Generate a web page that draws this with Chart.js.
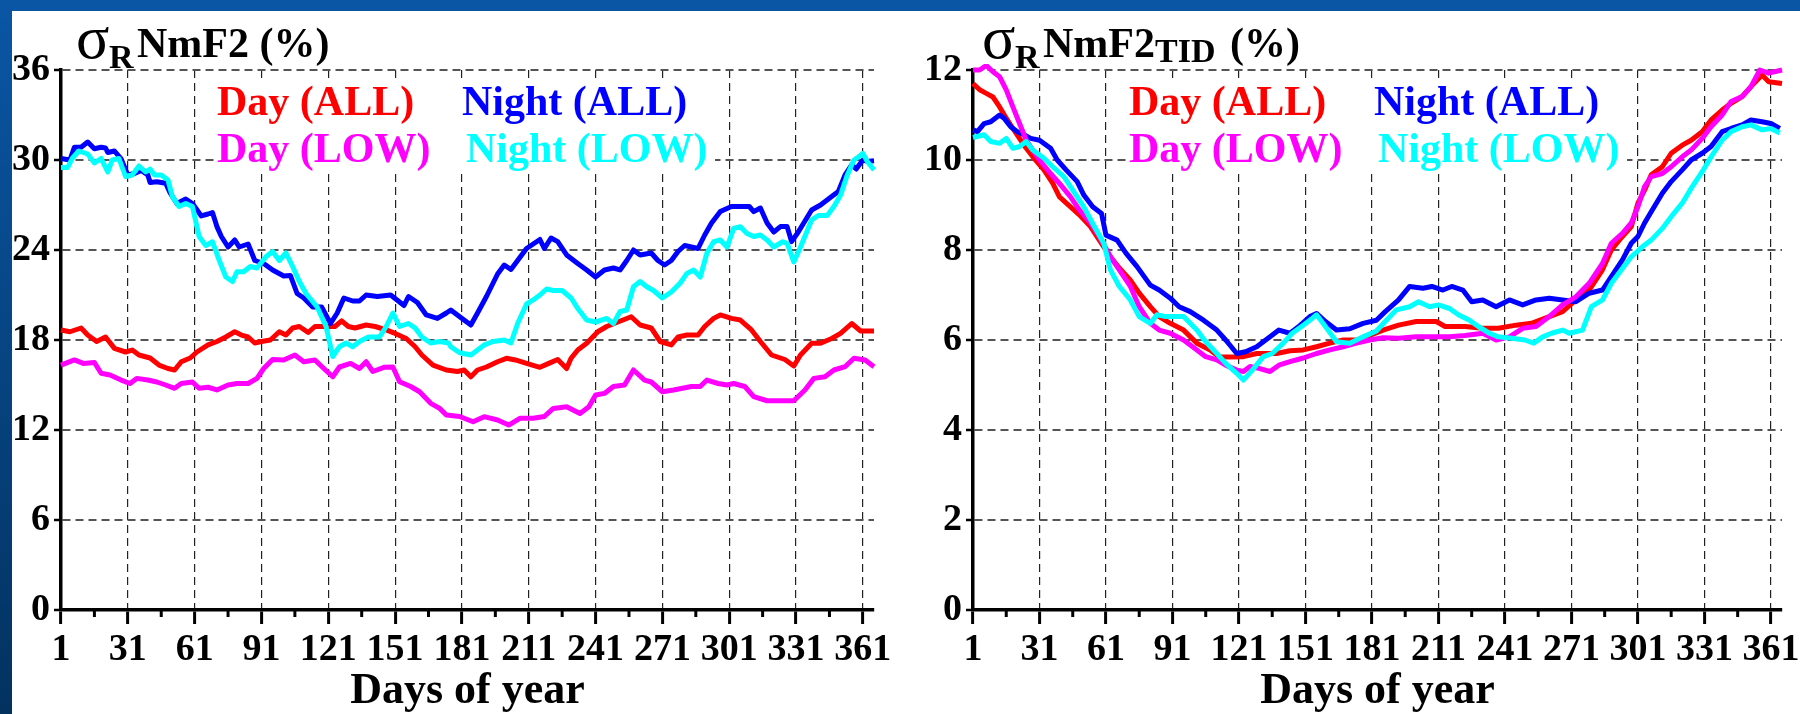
<!DOCTYPE html>
<html>
<head>
<meta charset="utf-8">
<script src="https://cdn.jsdelivr.net/npm/chart.js@4.4.1/dist/chart.umd.min.js"></script>
<style>
  html, body { margin: 0; padding: 0; }
  body { width: 1800px; height: 714px; overflow: hidden; background: #fff; position: relative; }
  .band-top { position: absolute; left: 0; top: 0; width: 1800px; height: 11px; background: #0a56a5; }
  .band-left { position: absolute; left: 0; top: 0; width: 12px; height: 714px; background: linear-gradient(#0a56a5, #03325f); }
  #leftChart { position: absolute; left: 12px; top: 11px; }
  #rightChart { position: absolute; left: 900px; top: 11px; }
</style>
</head>
<body>
<div class="band-top"></div>
<div class="band-left"></div>
<canvas id="leftChart" width="888" height="703"></canvas>
<canvas id="rightChart" width="900" height="703"></canvas>
<script>
// axis ticks
const xTickDays = [1, 31, 61, 91, 121, 151, 181, 211, 241, 271, 301, 331, 361];
const xMinorDays = [16, 46, 76, 106, 136, 166, 196, 226, 256, 286, 316, 346];
const leftYTicks = [0, 6, 12, 18, 24, 30, 36];
const rightYTicks = [0, 2, 4, 6, 8, 10, 12];

const seriesLabels = ['Day (ALL)', 'Night (ALL)', 'Day (LOW)', 'Night (LOW)'];
const seriesColors = ['#ff0000', '#0000ff', '#ff00ff', '#00ffff'];

// left panel: sigma_R NmF2 (%)
const leftDayAllDays = [1, 5, 10, 13, 17, 21, 25, 30, 33, 36, 41, 45, 49, 52, 55, 59, 62, 67, 71, 75, 79, 82, 85, 88, 91, 95, 99, 102, 105, 108, 112, 115, 121, 124, 127, 130, 133, 138, 142, 147, 151, 156, 160, 163, 168, 174, 179, 182, 185, 188, 192, 197, 201, 205, 210, 216, 220, 224, 228, 230, 233, 237, 242, 246, 251, 257, 261, 266, 270, 275, 278, 282, 287, 290, 294, 297, 302, 306, 311, 315, 320, 326, 330, 333, 338, 342, 347, 351, 356, 360, 366];
const leftDayAllVals = [18.67, 18.55, 18.8, 18.33, 17.9, 18.2, 17.44, 17.2, 17.33, 17.0, 16.8, 16.33, 16.1, 16.0, 16.55, 16.8, 17.2, 17.67, 17.9, 18.2, 18.55, 18.33, 18.2, 17.8, 17.9, 18.0, 18.55, 18.33, 18.8, 18.9, 18.5, 18.9, 18.9, 18.9, 19.27, 18.9, 18.8, 19.0, 18.9, 18.67, 18.44, 18.1, 17.55, 17.0, 16.33, 16.0, 15.9, 16.0, 15.55, 16.0, 16.2, 16.55, 16.78, 16.67, 16.44, 16.18, 16.44, 16.7, 16.1, 16.78, 17.33, 17.78, 18.55, 18.9, 19.2, 19.55, 19.0, 18.8, 17.9, 17.67, 18.2, 18.33, 18.33, 18.9, 19.44, 19.67, 19.44, 19.33, 18.67, 17.9, 17.0, 16.7, 16.27, 17.0, 17.78, 17.78, 18.1, 18.44, 19.1, 18.6, 18.6];

const leftNightAllDays = [1, 5, 7, 10, 13, 16, 19, 21, 22, 25, 28, 31, 34, 37, 40, 41, 44, 48, 50, 53, 57, 60, 64, 67, 69, 71, 73, 76, 79, 81, 85, 88, 92, 96, 101, 104, 107, 110, 114, 118, 122, 125, 128, 132, 135, 138, 143, 149, 155, 157, 161, 165, 170, 174, 176, 180, 185, 188, 192, 197, 200, 203, 206, 210, 213, 216, 218, 221, 224, 228, 233, 237, 241, 245, 249, 252, 255, 258, 261, 266, 269, 272, 275, 278, 281, 287, 290, 293, 297, 302, 306, 310, 312, 315, 318, 321, 324, 327, 329, 332, 338, 342, 347, 350, 353, 356, 358, 361, 363, 366];
const leftNightAllVals = [30.1, 30.0, 30.85, 30.85, 31.2, 30.75, 30.85, 30.8, 30.5, 30.6, 30.07, 29.0, 29.1, 29.3, 29.0, 28.5, 28.55, 28.45, 27.8, 27.1, 27.4, 27.1, 26.27, 26.4, 26.5, 25.56, 24.9, 24.2, 24.67, 24.2, 24.4, 23.3, 23.1, 22.67, 22.27, 22.3, 21.1, 20.8, 20.2, 20.2, 19.1, 19.8, 20.8, 20.6, 20.6, 21.0, 20.9, 21.0, 20.3, 20.9, 20.5, 19.67, 19.44, 19.8, 20.0, 19.55, 19.0, 19.8, 20.9, 22.4, 23.0, 22.7, 23.3, 24.1, 24.4, 24.7, 24.1, 24.8, 24.56, 23.67, 23.1, 22.67, 22.2, 22.67, 22.8, 22.67, 23.3, 24.0, 23.67, 23.8, 23.3, 23.0, 23.3, 23.9, 24.3, 24.1, 25.0, 25.78, 26.56, 26.9, 26.9, 26.9, 26.56, 26.8, 25.8, 25.2, 25.56, 25.56, 24.56, 25.2, 26.67, 27.0, 27.56, 27.9, 29.0, 29.67, 29.4, 30.0, 29.9, 29.95];

const leftDayLowDays = [1, 7, 11, 16, 19, 23, 28, 32, 35, 40, 44, 48, 52, 55, 60, 63, 67, 71, 76, 80, 85, 89, 92, 96, 101, 106, 110, 115, 119, 123, 126, 131, 135, 138, 141, 146, 150, 153, 158, 162, 167, 171, 174, 180, 186, 191, 197, 202, 207, 213, 218, 222, 228, 234, 238, 241, 245, 249, 254, 258, 263, 266, 271, 276, 284, 288, 291, 296, 300, 303, 308, 312, 318, 324, 330, 335, 339, 344, 348, 353, 357, 362, 366];
const leftDayLowVals = [16.33, 16.67, 16.44, 16.5, 15.78, 15.67, 15.33, 15.1, 15.44, 15.33, 15.2, 15.0, 14.78, 15.1, 15.2, 14.78, 14.85, 14.67, 15.0, 15.1, 15.1, 15.44, 16.1, 16.7, 16.67, 17.0, 16.55, 16.67, 16.1, 15.55, 16.2, 16.44, 16.1, 16.55, 15.9, 16.18, 16.2, 15.22, 14.9, 14.55, 13.78, 13.44, 13.0, 12.9, 12.55, 12.89, 12.67, 12.33, 12.78, 12.78, 12.9, 13.44, 13.55, 13.1, 13.55, 14.33, 14.44, 14.9, 15.0, 16.0, 15.33, 15.2, 14.55, 14.67, 14.9, 14.9, 15.33, 15.1, 15.0, 15.1, 14.9, 14.22, 13.95, 13.95, 13.95, 14.67, 15.44, 15.55, 16.0, 16.22, 16.78, 16.67, 16.22];

const leftNightLowDays = [1, 4, 6, 9, 13, 16, 19, 22, 24, 27, 30, 33, 36, 39, 41, 43, 46, 49, 51, 54, 57, 60, 63, 66, 69, 72, 75, 78, 80, 83, 86, 89, 93, 96, 99, 102, 105, 108, 111, 116, 120, 123, 126, 129, 132, 135, 139, 144, 147, 150, 153, 157, 160, 163, 167, 171, 175, 176, 180, 185, 188, 191, 195, 200, 203, 206, 210, 213, 216, 219, 222, 226, 230, 233, 237, 241, 246, 249, 252, 255, 258, 261, 264, 267, 271, 275, 279, 282, 285, 288, 291, 294, 297, 300, 303, 306, 309, 312, 315, 318, 321, 325, 327, 330, 333, 338, 341, 345, 348, 351, 354, 357, 359, 361, 363, 366];
const leftNightLowVals = [29.5, 29.5, 30.1, 30.6, 30.4, 29.8, 30.1, 29.2, 30.0, 30.1, 28.9, 29.0, 29.6, 29.2, 29.4, 29.0, 29.0, 28.67, 27.56, 26.9, 27.1, 26.9, 24.9, 24.3, 24.55, 23.33, 22.2, 21.9, 22.55, 22.55, 22.9, 22.8, 23.55, 23.9, 23.3, 23.8, 22.9, 21.9, 21.1, 20.2, 18.9, 16.9, 17.55, 17.8, 17.55, 17.9, 18.2, 18.2, 18.9, 19.8, 18.9, 19.1, 18.8, 18.2, 17.8, 17.9, 17.8, 17.55, 17.15, 17.0, 17.33, 17.67, 17.9, 18.0, 17.8, 19.1, 20.4, 20.67, 21.0, 21.4, 21.3, 21.3, 20.8, 20.1, 19.33, 19.2, 19.44, 19.1, 19.9, 20.0, 21.55, 21.9, 21.55, 21.3, 20.8, 21.2, 21.8, 22.44, 22.67, 22.2, 23.8, 24.55, 24.67, 24.2, 25.44, 25.55, 25.1, 24.9, 25.0, 24.67, 24.2, 24.55, 24.44, 23.2, 24.2, 26.0, 26.3, 26.3, 26.9, 27.67, 29.0, 30.0, 30.2, 30.44, 29.9, 29.33];

// right panel: sigma_R NmF2_TID (%)
const rightDayAllDays = [1, 4, 7, 10, 13, 16, 19, 24, 28, 33, 37, 40, 45, 49, 54, 58, 63, 67, 72, 76, 81, 85, 90, 96, 102, 108, 112, 117, 123, 129, 138, 144, 150, 156, 162, 168, 174, 180, 186, 193, 201, 210, 214, 223, 231, 238, 246, 253, 261, 267, 273, 279, 285, 289, 294, 298, 301, 304, 307, 312, 316, 321, 325, 330, 334, 339, 343, 348, 352, 357, 360, 366];
const rightDayAllVals = [11.7, 11.56, 11.48, 11.4, 11.18, 10.93, 10.7, 10.33, 10.07, 9.78, 9.48, 9.18, 8.96, 8.78, 8.52, 8.22, 7.85, 7.6, 7.33, 7.04, 6.74, 6.52, 6.37, 6.22, 5.93, 5.78, 5.63, 5.62, 5.63, 5.7, 5.7, 5.76, 5.78, 5.85, 5.93, 6.0, 6.0, 6.1, 6.22, 6.33, 6.41, 6.41, 6.3, 6.3, 6.26, 6.26, 6.33, 6.37, 6.52, 6.63, 6.89, 7.11, 7.56, 8.0, 8.3, 8.52, 9.04, 9.33, 9.67, 9.85, 10.15, 10.33, 10.44, 10.63, 10.89, 11.11, 11.26, 11.41, 11.63, 11.89, 11.74, 11.7];

const rightNightAllDays = [1, 3, 6, 9, 13, 15, 18, 21, 24, 27, 31, 36, 39, 43, 48, 51, 55, 59, 61, 66, 70, 75, 81, 85, 90, 94, 99, 105, 111, 115, 120, 124, 129, 135, 139, 144, 148, 153, 156, 160, 165, 171, 177, 183, 187, 193, 198, 204, 208, 213, 217, 222, 226, 231, 237, 243, 249, 255, 261, 267, 273, 279, 285, 289, 294, 298, 301, 304, 307, 312, 316, 321, 325, 330, 334, 339, 343, 348, 352, 357, 361, 365];
const rightNightAllVals = [10.67, 10.63, 10.81, 10.85, 11.0, 10.93, 10.74, 10.63, 10.56, 10.48, 10.44, 10.26, 10.0, 9.78, 9.52, 9.22, 8.96, 8.81, 8.33, 8.22, 7.93, 7.63, 7.22, 7.11, 6.93, 6.74, 6.63, 6.44, 6.22, 6.0, 5.7, 5.74, 5.85, 6.07, 6.22, 6.15, 6.3, 6.52, 6.59, 6.41, 6.22, 6.25, 6.37, 6.44, 6.63, 6.89, 7.19, 7.15, 7.19, 7.11, 7.19, 7.11, 6.85, 6.89, 6.74, 6.89, 6.78, 6.89, 6.93, 6.89, 6.85, 7.04, 7.11, 7.41, 7.78, 8.15, 8.3, 8.6, 8.85, 9.26, 9.52, 9.78, 10.0, 10.15, 10.3, 10.63, 10.7, 10.78, 10.89, 10.85, 10.81, 10.7];

const rightDayLowDays = [1, 4, 7, 10, 13, 16, 19, 22, 25, 28, 31, 36, 40, 45, 49, 54, 58, 63, 67, 72, 76, 81, 85, 90, 96, 102, 106, 111, 115, 120, 123, 126, 130, 135, 139, 144, 150, 156, 162, 168, 174, 180, 186, 193, 201, 210, 216, 223, 231, 237, 243, 249, 255, 261, 267, 273, 279, 285, 289, 294, 298, 301, 304, 307, 312, 316, 321, 325, 330, 334, 339, 343, 348, 352, 356, 360, 366];
const rightDayLowVals = [12.0, 12.0, 12.1, 11.96, 11.85, 11.56, 11.18, 10.81, 10.44, 10.22, 10.0, 9.7, 9.48, 9.18, 8.89, 8.6, 8.3, 7.85, 7.56, 7.19, 6.74, 6.37, 6.22, 6.15, 6.0, 5.78, 5.63, 5.56, 5.44, 5.33, 5.3, 5.41, 5.37, 5.3, 5.44, 5.52, 5.6, 5.7, 5.78, 5.85, 5.93, 6.0, 6.05, 6.04, 6.07, 6.07, 6.07, 6.1, 6.15, 6.0, 6.07, 6.26, 6.3, 6.52, 6.78, 6.96, 7.26, 7.7, 8.15, 8.37, 8.6, 8.96, 9.41, 9.63, 9.7, 9.85, 10.07, 10.22, 10.48, 10.74, 11.0, 11.3, 11.41, 11.63, 12.0, 11.93, 12.0];

const rightNightLowDays = [1, 6, 9, 13, 16, 19, 22, 25, 28, 33, 37, 42, 46, 51, 55, 60, 63, 67, 72, 76, 81, 84, 88, 96, 102, 106, 111, 115, 120, 123, 127, 132, 136, 141, 145, 150, 154, 156, 160, 165, 171, 177, 183, 187, 192, 198, 202, 207, 211, 216, 220, 225, 229, 234, 238, 244, 250, 254, 258, 262, 267, 270, 276, 280, 285, 289, 294, 298, 303, 307, 312, 316, 321, 325, 330, 334, 339, 343, 348, 352, 357, 361, 365];
const rightNightLowVals = [10.5, 10.56, 10.41, 10.37, 10.48, 10.26, 10.3, 10.41, 10.22, 10.04, 9.85, 9.63, 9.33, 8.96, 8.59, 8.15, 7.56, 7.19, 6.89, 6.52, 6.37, 6.56, 6.52, 6.52, 6.22, 5.96, 5.7, 5.48, 5.26, 5.11, 5.33, 5.63, 5.7, 5.93, 6.15, 6.33, 6.48, 6.56, 6.3, 5.96, 5.93, 6.07, 6.2, 6.41, 6.67, 6.74, 6.85, 6.74, 6.78, 6.7, 6.56, 6.44, 6.3, 6.15, 6.07, 6.04, 6.0, 5.93, 6.07, 6.15, 6.22, 6.15, 6.22, 6.74, 6.89, 7.26, 7.59, 7.85, 8.07, 8.22, 8.48, 8.74, 9.04, 9.37, 9.74, 10.07, 10.44, 10.63, 10.74, 10.78, 10.67, 10.7, 10.6];

const serif = '"Liberation Serif", "Times New Roman", serif';

function makeSeries(i, days, vals) {
  return {
    label: seriesLabels[i],
    data: days.map((d, k) => ({ x: d, y: vals[k] })),
    borderColor: seriesColors[i],
    backgroundColor: seriesColors[i],
    borderWidth: 5,
    borderJoinStyle: 'round',
    pointRadius: 0,
    tension: 0,
    order: 4 - i,
    clip: 6
  };
}

// legend box, minor ticks and the panel title
const panelPlugin = {
  id: 'panel',
  beforeDatasetsDraw(chart) {
    const { ctx, chartArea: a } = chart;
    ctx.save();
    ctx.fillStyle = '#fff';
    ctx.fillRect(a.left + 154, a.top + 8, 500, 96);
    ctx.font = 'bold 42px ' + serif;
    ctx.textBaseline = 'alphabetic';
    chart.data.datasets.forEach((ds, i) => {
      const col = i % 2, row = Math.floor(i / 2);
      ctx.fillStyle = ds.borderColor;
      ctx.fillText(ds.label, a.left + (col ? 401 + row * 4 : 156), a.top + 45 + row * 47);
    });
    ctx.restore();
  },
  afterDraw(chart, args, opts) {
    const { ctx, chartArea: a } = chart;
    const xs = chart.scales.x;
    ctx.save();
    ctx.strokeStyle = '#000';
    ctx.lineWidth = 3;
    xMinorDays.forEach(d => {
      const px = xs.getPixelForValue(d);
      ctx.beginPath();
      ctx.moveTo(px, a.bottom);
      ctx.lineTo(px, a.bottom + 7);
      ctx.stroke();
    });

    ctx.fillStyle = '#000';
    ctx.textBaseline = 'alphabetic';
    const base = a.top - 13;
    let tx = a.left + opts.offset;
    ctx.font = '62px ' + serif;
    ctx.fillText('σ', tx - 1, base + 1);
    tx += 32;
    ctx.font = 'bold 34px ' + serif;
    ctx.fillText('R', tx, base + 11);
    tx += 28;
    ctx.font = 'bold 42px ' + serif;
    ctx.fillText('NmF2', tx, base);
    tx += ctx.measureText('NmF2').width;
    if (opts.sub) {
      ctx.font = 'bold 34px ' + serif;
      ctx.fillText(opts.sub, tx, base + 5);
      tx += ctx.measureText(opts.sub).width + 4;
    }
    ctx.font = 'bold 42px ' + serif;
    ctx.fillText(' (%)', tx, base);
    ctx.restore();
  }
};

function makeChart(id, datasets, yTicks, yMax, yWidth, rightPad, title) {
  const hideAt = (v0) => (c) => (c.tick && c.tick.value === v0 ? 'rgba(0,0,0,0)' : null);
  return new Chart(document.getElementById(id), {
    type: 'line',
    data: { datasets },
    plugins: [panelPlugin],
    options: {
      responsive: false,
      animation: false,
      layout: { padding: { left: 0, right: rightPad, top: 59, bottom: 0 } },
      plugins: {
        legend: { display: false },
        tooltip: { enabled: false },
        panel: title
      },
      scales: {
        x: {
          type: 'linear',
          min: 1,
          max: 366,
          afterBuildTicks: s => { s.ticks = xTickDays.map(v => ({ value: v })); },
          afterFit: s => { s.height = 104; s.paddingLeft = 0; s.paddingRight = 0; },
          grid: {
            color: c => hideAt(1)(c) || '#222',
            lineWidth: 1.2,
            tickLength: 14,
            tickWidth: 3,
            tickColor: '#000',
            tickBorderDash: []
          },
          border: { display: true, color: '#000', width: 3.5, dash: [8, 5] },
          ticks: {
            color: '#000',
            font: { family: serif, size: 38, weight: 'bold' },
            padding: 3,
            maxRotation: 0,
            autoSkip: false,
            callback: v => String(v)
          },
          title: {
            display: true,
            text: 'Days of year',
            color: '#000',
            font: { family: serif, size: 44, weight: 'bold', lineHeight: 1 },
            padding: { top: 0, bottom: 0 }
          }
        },
        y: {
          min: 0,
          max: yMax,
          afterBuildTicks: s => { s.ticks = yTicks.map(v => ({ value: v })); },
          afterFit: s => { s.width = yWidth; s.paddingTop = 0; s.paddingBottom = 0; },
          grid: {
            color: c => hideAt(0)(c) || '#555',
            lineWidth: 2,
            tickLength: 7,
            tickWidth: 2.5,
            tickColor: '#000',
            tickBorderDash: []
          },
          border: { display: true, color: '#000', width: 3.5, dash: [8, 5] },
          ticks: {
            color: '#000',
            font: { family: serif, size: 38, weight: 'bold' },
            padding: 4,
            callback: v => String(v)
          }
        }
      }
    }
  });
}

makeChart('leftChart', [
  makeSeries(0, leftDayAllDays, leftDayAllVals),
  makeSeries(1, leftNightAllDays, leftNightAllVals),
  makeSeries(2, leftDayLowDays, leftDayLowVals),
  makeSeries(3, leftNightLowDays, leftNightLowVals)
], leftYTicks, 36, 49, 26, { offset: 16, sub: '' });

makeChart('rightChart', [
  makeSeries(0, rightDayAllDays, rightDayAllVals),
  makeSeries(1, rightNightAllDays, rightNightAllVals),
  makeSeries(2, rightDayLowDays, rightDayLowVals),
  makeSeries(3, rightNightLowDays, rightNightLowVals)
], rightYTicks, 12, 73, 18, { offset: 10, sub: 'TID' });
</script>
</body>
</html>
